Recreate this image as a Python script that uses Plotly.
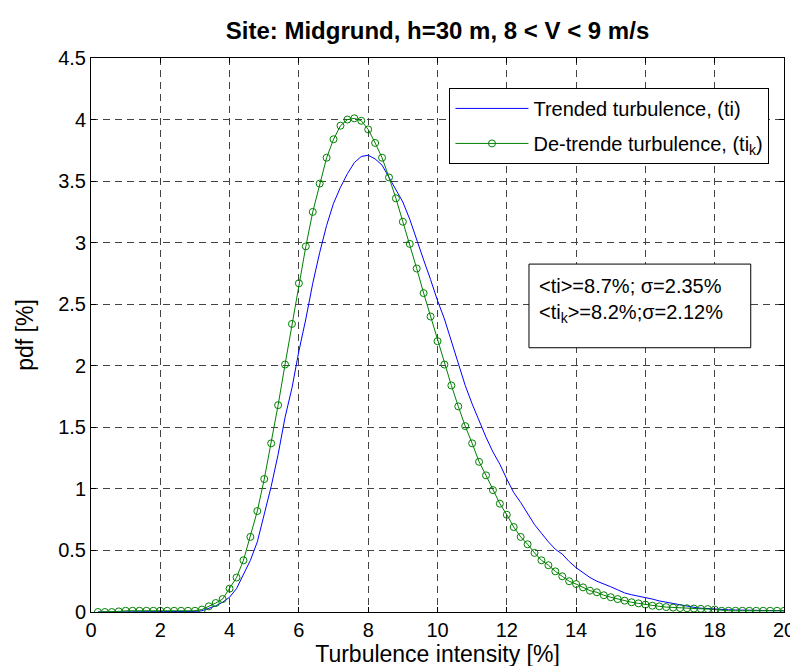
import plotly.graph_objects as go

x_ti = [0.2, 0.4, 0.6, 0.8, 1.0, 1.2, 1.4, 1.6, 1.8, 2.0,
        2.2, 2.4, 2.6, 2.8, 3.0, 3.2, 3.4, 3.6, 3.8, 4.0,
        4.2, 4.4, 4.6, 4.8, 5.0, 5.2, 5.4, 5.6, 5.8, 6.0,
        6.2, 6.4, 6.6, 6.8, 7.0, 7.2, 7.4, 7.6, 7.8, 8.0,
        8.2, 8.4, 8.6, 8.8, 9.0, 9.2, 9.4, 9.6, 9.8, 10.0,
        10.2, 10.4, 10.6, 10.8, 11.0, 11.2, 11.4, 11.6, 11.8, 12.0,
        12.2, 12.4, 12.6, 12.8, 13.0, 13.2, 13.4, 13.6, 13.8, 14.0,
        14.2, 14.4, 14.6, 14.8, 15.0, 15.2, 15.4, 15.6, 15.8, 16.0,
        16.2, 16.4, 16.6, 16.8, 17.0, 17.2, 17.4, 17.6, 17.8, 18.0,
        18.2, 18.4, 18.6, 18.8, 19.0, 19.2, 19.4, 19.6, 19.8, 20.0]

pdf_trended = [0.0, 0.0, 0.0, 0.0, 0.0, 0.0, 0.0, 0.0, 0.0, 0.0,
               0.0, 0.0, 0.0, 0.0, 0.005, 0.01, 0.03, 0.05, 0.08, 0.12,
               0.19, 0.30, 0.42, 0.57, 0.80, 1.02, 1.28, 1.58, 1.82, 2.12,
               2.38, 2.67, 2.92, 3.14, 3.32, 3.45, 3.56, 3.65, 3.70, 3.71,
               3.68, 3.63, 3.53, 3.43, 3.33, 3.19, 3.02, 2.86, 2.70, 2.53,
               2.38, 2.20, 2.01, 1.84, 1.69, 1.55, 1.42, 1.30, 1.20, 1.08,
               0.97, 0.89, 0.80, 0.71, 0.64, 0.57, 0.51, 0.47, 0.41, 0.36,
               0.32, 0.28, 0.25, 0.23, 0.205, 0.18, 0.155, 0.14, 0.13, 0.12,
               0.105, 0.09, 0.079, 0.068, 0.056, 0.046, 0.038, 0.031, 0.027, 0.022,
               0.02, 0.018, 0.016, 0.015, 0.013, 0.012, 0.011, 0.01, 0.01, 0.01]

pdf_detrended = [0.0, 0.0, 0.0, 0.005, 0.01, 0.01, 0.01, 0.01, 0.01, 0.01,
                 0.01, 0.01, 0.01, 0.01, 0.01, 0.02, 0.046, 0.073, 0.105, 0.19,
                 0.28, 0.42, 0.61, 0.82, 1.08, 1.37, 1.68, 2.01, 2.34, 2.67,
                 2.97, 3.25, 3.48, 3.69, 3.84, 3.95, 4.00, 4.01, 3.99, 3.92,
                 3.81, 3.69, 3.53, 3.36, 3.17, 2.99, 2.79, 2.59, 2.40, 2.20,
                 2.01, 1.84, 1.67, 1.51, 1.37, 1.22, 1.11, 0.99, 0.88, 0.79,
                 0.69, 0.61, 0.55, 0.48, 0.42, 0.38, 0.33, 0.29, 0.25, 0.227,
                 0.20, 0.173, 0.16, 0.136, 0.12, 0.105, 0.092, 0.079, 0.07, 0.06,
                 0.051, 0.046, 0.04, 0.036, 0.032, 0.03, 0.028, 0.026, 0.024, 0.02,
                 0.01, 0.01, 0.01, 0.01, 0.01, 0.01, 0.01, 0.01, 0.01, 0.01]

x_ticks = [0, 2, 4, 6, 8, 10, 12, 14, 16, 18, 20]
y_ticks = [0, 0.5, 1, 1.5, 2, 2.5, 3, 3.5, 4, 4.5]
y_tick_labels = ["0", "0.5", "1", "1.5", "2", "2.5", "3", "3.5", "4", "4.5"]

FONT = "Liberation Sans, Arial, sans-serif"

fig = go.Figure()
fig.add_trace(go.Scatter(
    x=x_ti, y=pdf_trended, mode="lines",
    name="Trended turbulence, (ti)", legendgroup="a",
    line=dict(color="#0000ff", width=1),
))
fig.add_trace(go.Scatter(
    x=x_ti, y=pdf_detrended, mode="lines+markers",
    name="De-trende turbulence, (ti<sub>k</sub>)", legendgroup="b",
    line=dict(color="#008000", width=1),
    marker=dict(symbol="circle-open", size=7, color="#008000", line=dict(width=1)),
))

axis_common = dict(
    showline=True, linecolor="black", linewidth=1, mirror="ticks",
    ticks="inside", ticklen=5, tickcolor="black",
    showgrid=True, gridcolor="#444444", gridwidth=1, griddash="7px,5px",
    zeroline=False, ticklabeloverflow="allow",
    tickfont=dict(family=FONT, size=20, color="black"),
)

fig.update_xaxes(
    range=[0, 20], tickvals=x_ticks, ticktext=[str(v) for v in x_ticks],
    title=dict(text="Turbulence intensity [%]", font=dict(family=FONT, size=23, color="black"), standoff=5),
    **axis_common,
)
fig.update_yaxes(
    range=[0, 4.5], tickvals=y_ticks, ticktext=y_tick_labels,
    title=dict(text="pdf [%]", font=dict(family=FONT, size=23, color="black"), standoff=18),
    **axis_common,
)

fig.update_layout(
    width=798, height=666,
    margin=dict(l=83, r=11, t=50, b=62),
    paper_bgcolor="white", plot_bgcolor="white",
    title=dict(text="<b>Site: Midgrund, h=30 m, 8 &lt; V &lt; 9 m/s</b>",
               font=dict(family=FONT, size=24, color="black"),
               x=0.5, xref="paper", xanchor="center", y=0.966, yanchor="middle"),
    showlegend=True,
    legend=dict(
        x=0.979, y=0.946, xanchor="right", yanchor="top",
        bgcolor="white", bordercolor="black", borderwidth=1,
        font=dict(family=FONT, size=20, color="black"),
        itemwidth=73, tracegroupgap=6,
    ),
)

fig.add_shape(type="rect", xref="paper", yref="paper",
              x0=0.632, x1=0.952, y0=0.477, y1=0.628,
              line=dict(color="black", width=1), fillcolor="white", layer="above")
fig.add_annotation(
    xref="paper", yref="paper", x=0.644, y=0.612, xanchor="left", yanchor="top",
    text="&lt;ti&gt;=8.7%; σ=2.35%<br>&lt;ti<sub>k</sub>&gt;=8.2%;σ=2.12%",
    showarrow=False, align="left",
    font=dict(family=FONT, size=20, color="black"),
)

fig.write_html("out.html")
